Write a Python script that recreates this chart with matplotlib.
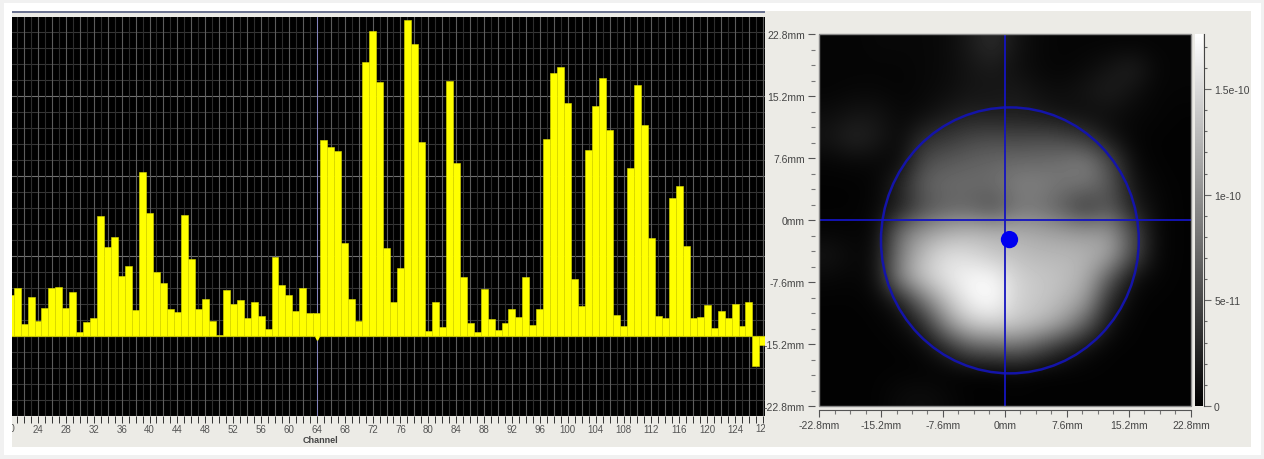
import numpy as np
import matplotlib
matplotlib.use('Agg')
import matplotlib.pyplot as plt
from matplotlib.patches import Rectangle, Ellipse, Circle
from matplotlib.transforms import Bbox

plt.rcParams['font.family'] = ['Liberation Sans', 'DejaVu Sans']

# Data
channels = list(range(20, 129))
counts = [123, 144, 35, 117, 43, 83, 143, 146, 83, 130, 12, 41, 53, 358, 265, 295,
          178, 208, 77, 492, 369, 190, 159, 81, 71, 362, 231, 81, 109, 43, 3, 136,
          94, 106, 52, 100, 59, 20, 235, 153, 123, 74, 143, 67, 69, 586, 565, 553,
          277, 111, 43, 822, 914, 760, 262, 102, 202, 946, 874, 580, 14, 100, 26, 765,
          519, 176, 39, 12, 140, 49, 17, 39, 81, 55, 176, 32, 81, 591, 788, 807,
          698, 170, 89, 557, 688, 773, 618, 62, 28, 504, 753, 631, 293, 58, 53, 412,
          449, 270, 52, 56, 92, 22, 73, 53, 94, 30, 100, -90, -28]
channel_labels = list(range(24, 125, 4))

# Heat map, fraction of the colour bar maximum, top row first
heat_fraction = [
    [.02, .02, .03, .03, .03, .04, .10, .18, .07, .03, .02, .02, .02, .02, .02, .02],
    [.02, .02, .02, .02, .03, .04, .08, .10, .06, .03, .02, .04, .08, .13, .03, .02],
    [.02, .03, .03, .02, .03, .05, .08, .08, .10, .06, .05, .08, .12, .06, .02, .02],
    [.05, .08, .08, .03, .05, .10, .13, .12, .12, .10, .07, .05, .05, .03, .02, .01],
    [.08, .15, .10, .03, .18, .22, .28, .30, .28, .30, .28, .22, .08, .02, .01, .01],
    [.02, .03, .03, .03, .30, .35, .38, .40, .42, .42, .45, .50, .30, .04, .01, .01],
    [.01, .01, .02, .15, .38, .42, .42, .42, .50, .50, .45, .45, .35, .08, .02, .01],
    [.01, .01, .03, .12, .30, .38, .38, .30, .45, .45, .35, .20, .35, .12, .03, .01],
    [.02, .02, .03, .45, .60, .68, .72, .70, .68, .65, .62, .60, .60, .30, .03, .01],
    [.08, .03, .05, .50, .75, .88, .85, .78, .75, .72, .72, .70, .65, .30, .03, .01],
    [.03, .02, .05, .55, .78, .90, .98, .98, .82, .78, .75, .68, .35, .05, .02, .01],
    [.01, .01, .02, .10, .45, .75, .95, 1.0, .82, .78, .72, .60, .15, .02, .01, .01],
    [.01, .01, .01, .03, .15, .55, .78, .82, .78, .72, .60, .35, .06, .01, .01, .01],
    [.01, .01, .01, .01, .03, .15, .35, .38, .42, .30, .15, .05, .01, .01, .01, .01],
    [.01, .01, .01, .01, .01, .01, .01, .01, .03, .01, .01, .01, .01, .01, .01, .01],
    [.01, .01, .01, .04, .05, .03, .01, .01, .01, .01, .01, .01, .01, .01, .01, .01],
]
heat_max = 1.76e-10
mm_ticks = [-22.8, -15.2, -7.6, 0, 7.6, 15.2, 22.8]
mm_labels = ['-22.8mm', '-15.2mm', '-7.6mm', '0mm', '7.6mm', '15.2mm', '22.8mm']
cbar_ticks = [0, 5e-11, 1e-10, 1.5e-10]
cbar_labels = ['0', '5e-11', '1e-10', '1.5e-10']

W, H = 1264, 460
fig = plt.figure(figsize=(W / 100, H / 100), dpi=100, facecolor='#f1f1f1')


def px_axes(left, top, right, bottom):
    return fig.add_axes([left / W, 1 - bottom / H, (right - left) / W, (bottom - top) / H])


# Card and panel behind the plots
bg = px_axes(0, 0, W, H)
bg.set_xlim(0, W)
bg.set_ylim(H, 0)
bg.axis('off')
bg.add_patch(Rectangle((4, 4), 1257, 452, fc='white', ec='none'))
bg.add_patch(Rectangle((12, 12), 1239, 436, fc='#ecebe6', ec='none'))
bg.add_patch(Rectangle((12, 12), 753, 2.2, fc='#6b7390', ec='none'))

# Bar chart
ax = px_axes(12, 17.6, 765, 416.7)
ax.set_facecolor('black')
ax.bar(channels, counts, width=1.0, color='#ffff00', edgecolor='#dcdc00', linewidth=0.4, zorder=3)
ax.axhline(0, color='#c4c400', lw=0.8, zorder=4)
ax.axvline(64, color='#8c8cd0', lw=0.6, zorder=2)
ax.plot([64], [-6], marker='v', ms=2.5, color='#ffff00', zorder=5)
ax.set_xlim(20.27, 128.3)
ax.set_ylim(-240, 957)

tick_channels = channels[1:]
ax.set_xticks(tick_channels)
ax.set_xticklabels([str(c) if c in channel_labels else '' for c in tick_channels])
ax.set_yticks(np.arange(-240, 957, 48), minor=True)
ax.set_yticks(np.arange(-240, 957, 240))
ax.tick_params(axis='y', which='both', left=False, labelleft=False)
ax.tick_params(axis='x', length=5, width=0.7, color='#333333', labelsize=7,
               labelcolor='#555555', pad=1)
for c in tick_channels:
    shade = '#5c5c5c' if c % 2 == 0 else '#2e2e2e'
    ax.axvline(c, color=shade, lw=0.8, zorder=1)
ax.grid(True, axis='y', which='major', color='#707070', lw=0.8, zorder=1)
ax.grid(True, axis='y', which='minor', color='#363636', lw=0.8, zorder=1)
ax.set_axisbelow(True)
for side in ax.spines.values():
    side.set_visible(False)
ax.set_xlabel('Channel', fontsize=6.5, fontweight='bold', color='#444444')
ax.xaxis.set_label_coords(0.409, -0.049)

# End labels are cut off by the plot edges in the original
clip = Bbox([[12, 0], [765, H]])
for c in (20, 128):
    label = ax.text(c, -0.031, str(c), fontsize=7, color='#555555', ha='center', va='center',
                    transform=ax.get_xaxis_transform(), clip_on=True)
    label.set_clip_box(clip)

# Heat map
hm = px_axes(819, 35, 1191, 407)
im = hm.imshow(np.array(heat_fraction) * heat_max, cmap='gray', vmin=0, vmax=heat_max,
               extent=[-22.8, 22.8, -22.8, 22.8], interpolation='bicubic', aspect='auto')
hm.axhline(0, color='#1414c0', lw=1.3)
hm.axvline(0, color='#1414c0', lw=1.3)
hm.add_patch(Ellipse((0.6, -2.5), 31.6, 32.6, fill=False, ec='#1414a8', lw=1.8))
hm.add_patch(Circle((0.55, -2.4), 1.06, fc='#0000f0', ec='none', zorder=5))
hm.set_xticks(mm_ticks)
hm.set_xticklabels(mm_labels)
hm.set_yticks(mm_ticks)
hm.set_yticklabels(mm_labels)
hm.set_xticks(np.arange(-22.8, 22.9, 1.9), minor=True)
hm.set_yticks(np.arange(-22.8, 22.9, 1.9), minor=True)
for s in ('top', 'right'):
    hm.spines[s].set_visible(False)
hm.spines['left'].set_position(('outward', 3))
hm.spines['left'].set_visible(False)
hm.spines['bottom'].set_position(('outward', 3))
hm.spines['bottom'].set_color('#555555')
hm.spines['bottom'].set_linewidth(0.8)
hm.tick_params(which='major', length=5, width=0.8, color='#555555', labelsize=7.5,
               labelcolor='#444444', pad=2)
hm.tick_params(which='minor', length=3, width=0.8, color='#777777')
hm.add_patch(Rectangle((0, 0), 1, 1, transform=hm.transAxes, fill=False, ec='#8a8a8a',
                       lw=1, clip_on=False, zorder=6))

# Colour bar
cax = px_axes(1195, 35, 1203, 407)
cbar = fig.colorbar(im, cax=cax)
cbar.outline.set_visible(False)
cbar.set_ticks(cbar_ticks)
cbar.set_ticklabels(cbar_labels)
cbar.ax.set_yticks(np.arange(0, heat_max, 1e-11), minor=True)
cax.spines['right'].set_visible(True)
cax.spines['right'].set_color('#444444')
cax.spines['right'].set_position(('outward', 1))
cax.tick_params(which='major', length=5, width=0.8, color='#666666', labelsize=7.5,
                labelcolor='#444444', pad=2)
cax.tick_params(which='minor', length=2, width=0.8, color='#666666')

fig.savefig('out.png', dpi=100, facecolor=fig.get_facecolor())
